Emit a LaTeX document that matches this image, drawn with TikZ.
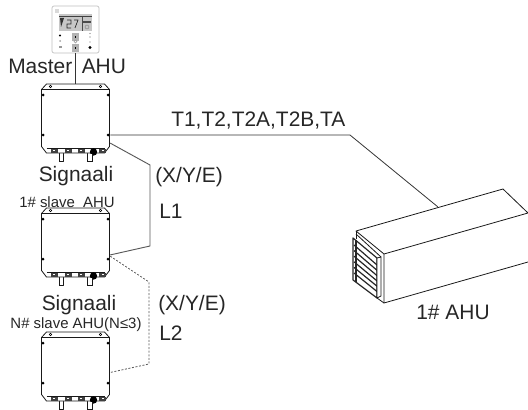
\documentclass[tikz,border=0pt]{standalone}
\usepackage{fontspec}
\setmainfont{Liberation Sans}
\tikzset{
  wire/.style={line width=0.6pt,draw=black!80},
  greywire/.style={line width=0.7pt,draw=black!65},
  dotwire/.style={line width=0.6pt,draw=black!65,dash pattern=on 1.5pt off 1.2pt},
  outline/.style={line width=0.6pt,draw=black!90,line join=round},
  bigtxt/.style={inner sep=0pt,font=\fontsize{15.7}{18}\selectfont,text=black!85},
  smalltxt/.style={inner sep=0pt,font=\fontsize{11.2}{13}\selectfont,text=black!85},
  anchorpt/.style={inner sep=0pt,minimum size=0pt},
  pics/ctrlbox/.style={code={
    \draw[outline,fill=white] (-12,34)--(-12,43) (-16,34)--(-16,43) (12,34)--(12,43) (16.5,34)--(16.5,43);
    \draw[outline,fill=white] (-34,-29)--(-29,-34.5)--(29,-34.5)--(34,-29)--(34,28)--(29,34.5)--(-29,34.5)--(-34,28)--cycle;
    \draw[outline] (-34,-29)--(34,-29);
    \draw[outline] (-29,29.5)--(29,29.5);
    \foreach \p in {(-32.5,-23.5),(32.5,-23.5),(-32.5,16.5),(32.5,16.5)}{\fill[black] \p circle (1.5);}
    \foreach \p in {(-25,-32),(25,-32)}{\draw[line width=0.4pt] \p circle (1.3);}
    \foreach \x in {-21.5,-7.5,5.5,27}{\fill[black!75] (\x-3.5,30)rectangle(\x+3.5,34);\fill[white](\x-1,31.2)rectangle(\x+1,32.8);}
    \fill[black] (18,33.5) circle (3.7);
    \draw[outline,fill=white] (-16,35)--(-16,43)--(-12,43)--(-12,35);
    \draw[outline,fill=white] (12,35)--(12,43)--(16.5,43)--(16.5,35);
  }},
}
\begin{document}
\begin{tikzpicture}[x=0.75pt,y=-0.75pt]
\useasboundingbox (0,0) rectangle (528,410);
% controller
\node[anchorpt] (ctrl) at (75.5,53) {};
\draw[line width=0.5pt,draw=black!25,fill=white,rounded corners=1.5] (52,6) rectangle (99,53);
\fill[black!15] (54.5,9) rectangle (58.5,13);
\fill[black!22] (59,14) rectangle (92,31);
\fill[black!75] (59,16) rectangle (92,17.5);
\fill[black!80] (60,18)--(64,18)--(61,27)--cycle;
\draw[line width=0.5pt,black!85] (67,20)--(71,20)--(71,24)--(67,24)--(67,28)--(71,28) (74,20)--(78,20)--(75,28);
\draw[line width=0.4pt,black!70] (82,17.5)--(82,31);
\fill[black!70] (83,21) rectangle (91,23);
\draw[line width=0.3pt,black!50] (87,27) circle (2);
\fill[black] (60,35.5) circle (1.2);
\fill[black!30] (72,33) rectangle (79,41);
\fill[black] (74.7,36) rectangle (76.3,38);
\fill[black!55] (90,33.5) circle (0.7);
\fill[black!30] (90,37) circle (0.8);
\fill[black!35] (60,41) circle (1);
\draw[line width=0.3pt,black!40] (75.5,41.5) circle (1.5);
\fill[black!25] (90,42) circle (0.8);
\fill[black!40] (58.5,46) rectangle (62,48.5);
\fill[black!30] (72,44) rectangle (79,52);
\fill[black] (74.7,47) rectangle (76.3,49);
\fill[black] (90,47.5) circle (1.7);
% boxes
\path (75.5,118.5) pic {ctrlbox};
\path (75.5,242.5) pic {ctrlbox};
\path (75.5,366.5) pic {ctrlbox};
\node[anchorpt] (b1top) at (75.5,84) {};
\node[anchorpt] (b1t) at (110,135) {};
\node[anchorpt] (b1x) at (110,143) {};
\node[anchorpt] (b2x) at (110,255) {};
\node[anchorpt] (b2y) at (110,256) {};
\node[anchorpt] (b3y) at (110,372.5) {};
\node[anchorpt] (ahuin) at (438,207) {};
% connectors
\draw[wire] (ctrl) -- (b1top);
\coordinate (bend0) at (350,135);
\draw[wire] (b1t) -- (bend0) -- (ahuin);
\coordinate (l1a) at (150,165); \coordinate (l1b) at (150,246);
\draw[greywire] (b1x) -- (l1a) -- (l1b) -- (b2x);
\coordinate (l2a) at (149,282); \coordinate (l2b) at (149,364);
\draw[dotwire] (b2y) -- (l2a) -- (l2b) -- (b3y);
% AHU
\draw[outline] (528,213)--(503,189)--(356,231)--(384,254)--(528,213);
\draw[outline] (356,231)--(356,239);
\draw[outline] (384,254)--(384,303)--(528,262);
\draw[outline] (377,298)--(384,303);
\draw[outline] (356,234)--(381,257);
\draw[line width=0.9pt,black!85,fill=white,line join=round] (353,238)--(377,258)--(377,298)--(353,280)--cycle;
\draw[line width=0.9pt,black!85] (356,240)--(356,282);
\foreach \i in {0,...,5}{\draw[line width=0.9pt,black!85] (354,{245+\i*5.6})--(377,{265+\i*5.3});}
\draw[outline,fill=white] (377,258)--(381,257)--(381,296)--(377,298)--cycle;
% text
\node[bigtxt,anchor=base west] (m1) at (8,74) {Master};
\node[bigtxt,anchor=base west] (m2) at (81.5,74) {AHU};
\node[bigtxt,anchor=base] (s1) at (76,181) {Signaali};
\node[smalltxt,anchor=base] (s1b) at (67,207) {1\# slave\ \ AHU};
\node[bigtxt,anchor=base] (s2) at (79,310) {Signaali};
\node[smalltxt,anchor=base] (s2b) at (76,328) {N\# slave AHU(N≤3)};
\node[bigtxt,anchor=base west] (x1) at (155,182) {(X/Y/E)};
\node[bigtxt,anchor=base west] (l1) at (159,218) {L1};
\node[bigtxt,anchor=base west] (x2) at (158,310) {(X/Y/E)};
\node[bigtxt,anchor=base west] (l2) at (159,340) {L2};
\node[bigtxt,anchor=base west] (t) at (171,127) {T1,T2,T2A,T2B,TA};
\node[bigtxt,anchor=base] (a) at (453,319) {1\# AHU};
\end{tikzpicture}
\end{document}
